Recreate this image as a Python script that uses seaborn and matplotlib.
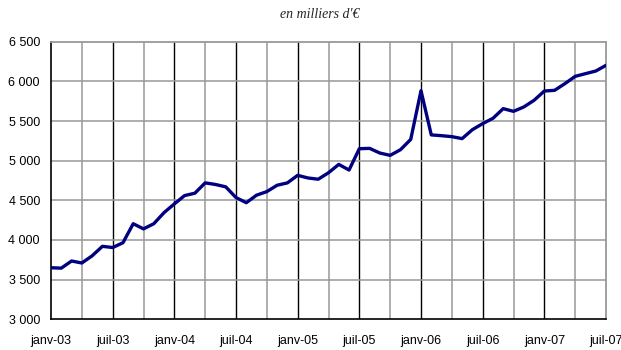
import matplotlib
matplotlib.use("Agg")
import matplotlib.pyplot as plt
import seaborn as sns
import pandas as pd

# Monthly values, janv-03 .. juil-07 (thousands of euros)
values = [
    3650, 3645, 3735, 3710, 3800, 3920, 3905, 3965, 4205, 4140, 4205, 4345,
    4455, 4560, 4590, 4720, 4700, 4670, 4535, 4470, 4565, 4610, 4690, 4720,
    4815, 4782, 4766, 4848, 4953, 4882, 5151, 5155, 5096, 5067, 5138, 5268,
    5882, 5325, 5315, 5303, 5278, 5391, 5467, 5534, 5656, 5622, 5677, 5761,
    5878, 5887, 5971, 6063, 6097, 6130, 6202,
]
month_index = list(range(len(values)))

x_tick_labels = ["janv-03", "juil-03", "janv-04", "juil-04", "janv-05",
                 "juil-05", "janv-06", "juil-06", "janv-07", "juil-07"]
y_ticks = [3000, 3500, 4000, 4500, 5000, 5500, 6000, 6500]
y_tick_labels = ["3 000", "3 500", "4 000", "4 500", "5 000", "5 500",
                 "6 000", "6 500"]
unit_label = "en milliers d'€"

df = pd.DataFrame({"mois": month_index, "valeur": values})

sns.set_style("white")
plt.rcParams["font.family"] = ["Liberation Sans", "DejaVu Sans"]

fig = plt.figure(figsize=(6.21, 3.5), dpi=100)
ax = fig.add_axes([51 / 621, 1 - 319.3 / 350, (606 - 51) / 621, (319.3 - 41.7) / 350])

grid_gray = "#999999"

# quarterly gray verticals, half-yearly black verticals, gray horizontals
for m in range(3, len(values), 6):
    ax.axvline(m, color=grid_gray, lw=1.1, zorder=0)
for m in range(6, len(values) - 1, 6):
    ax.axvline(m, color="black", lw=1.0, zorder=0)
for v in y_ticks[1:-1]:
    ax.axhline(v, color=grid_gray, lw=1.1, zorder=0)

sns.lineplot(data=df, x="mois", y="valeur", ax=ax, color="#000080",
             lw=2.4, zorder=3)

ax.set_xlim(0, len(values) - 1)
ax.set_ylim(3000, 6500)
ax.set_xticks(range(0, len(values), 6))
ax.set_xticklabels(x_tick_labels)
ax.set_yticks(y_ticks)
ax.set_yticklabels(y_tick_labels)
ax.set_xlabel("")
ax.set_ylabel("")

ax.tick_params(axis="both", direction="out", length=4, width=1,
               color="black", labelsize=9, labelcolor="black", pad=4)
ax.tick_params(axis="x", pad=7)

for side in ("left", "bottom"):
    ax.spines[side].set_color("black")
    ax.spines[side].set_linewidth(1.2)
for side in ("top", "right"):
    ax.spines[side].set_visible(True)
    ax.spines[side].set_color(grid_gray)
    ax.spines[side].set_linewidth(1.3)

fig.text(320 / 621, 1 - 15 / 350, unit_label, ha="center", va="center",
         fontsize=10, style="italic",
         family=["Liberation Serif", "DejaVu Serif"])

fig.savefig("out.png", dpi=100)
